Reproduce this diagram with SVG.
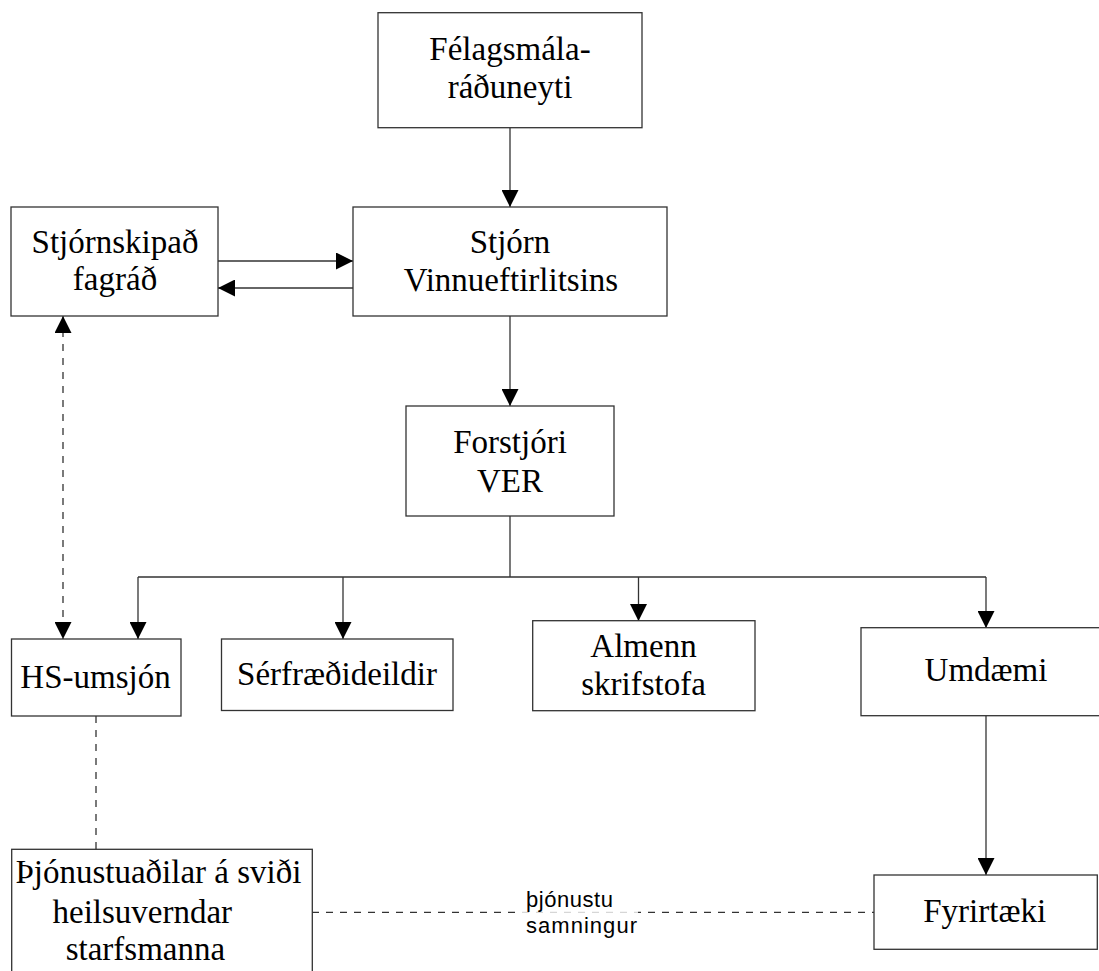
<svg xmlns="http://www.w3.org/2000/svg" width="1099" height="971" viewBox="0 0 1099 971">
<style>
.box{fill:#fff;stroke:#333;stroke-width:1.3}
.t{font-family:"Liberation Serif","Times New Roman",serif;font-size:33px;fill:#000;text-anchor:middle}
.c{fill:none;stroke:#333;stroke-width:1.3}
.d{stroke-dasharray:7,7}
.lbl{font-family:"Liberation Sans",Arial,sans-serif;font-size:22px;fill:#000}
</style>
<defs>
<marker id="ah" viewBox="0 0 17 17" refX="17" refY="8.5" markerWidth="17" markerHeight="17" orient="auto-start-reverse" markerUnits="userSpaceOnUse">
<path d="M0,0 L17,8.5 L0,17 z" fill="#000"/>
</marker>
</defs>
<rect width="1099" height="971" fill="#fff"/>
<g id="connectors">
<path class="c" d="M510,128 V207" marker-end="url(#ah)"/>
<path class="c" d="M218,261 H353" marker-end="url(#ah)"/>
<path class="c" d="M353,288 H218" marker-end="url(#ah)"/>
<path class="c" d="M510,316 V406" marker-end="url(#ah)"/>
<path class="c" d="M510,516 V577 M138,577 H986"/>
<path class="c" d="M138,577 V639" marker-end="url(#ah)"/>
<path class="c" d="M343,577 V639" marker-end="url(#ah)"/>
<path class="c" d="M638.5,577 V621" marker-end="url(#ah)"/>
<path class="c" d="M986,577 V628" marker-end="url(#ah)"/>
<path class="c d" d="M63,316 V639" marker-start="url(#ah)" marker-end="url(#ah)"/>
<path class="c d" d="M96,716 V849"/>
<path class="c" d="M986,716 V875" marker-end="url(#ah)"/>
<path class="c d" d="M312,912.3 H874"/>
<rect x="520" y="905" width="118" height="14" fill="#fff" fill-opacity="0.8"/>
<text class="lbl" x="526" y="906.7" textLength="87" lengthAdjust="spacing">þjónustu</text>
<text class="lbl" x="526" y="932.7" textLength="111" lengthAdjust="spacing">samningur</text>
</g>
<g id="felagsmalaraduneyti">
<rect class="box" x="378" y="12.7" width="264" height="115"/>
<text class="t" x="510" y="60">Félagsmála-</text>
<text class="t" x="510" y="98">ráðuneyti</text>
</g>
<g id="stjornskipad">
<rect class="box" x="11" y="207" width="207" height="109"/>
<text class="t" x="115" y="252.5">Stjórnskipað</text>
<text class="t" x="115" y="290">fagráð</text>
</g>
<g id="stjorn">
<rect class="box" x="353" y="207" width="314" height="109"/>
<text class="t" x="510" y="253">Stjórn</text>
<text class="t" x="511" y="291">Vinnueftirlitsins</text>
</g>
<g id="forstjori">
<rect class="box" x="406" y="406" width="208" height="110"/>
<text class="t" x="510" y="452.7">Forstjóri</text>
<text class="t" x="510" y="491.7">VER</text>
</g>
<g id="hsumsjon">
<rect class="box" x="11.5" y="639" width="169.5" height="77"/>
<text class="t" x="95.5" y="688">HS-umsjón</text>
</g>
<g id="serfraedideildir">
<rect class="box" x="221.5" y="639" width="231.5" height="71.5"/>
<text class="t" x="337" y="685">Sérfræðideildir</text>
</g>
<g id="almenn">
<rect class="box" x="532.7" y="620.7" width="222.3" height="90"/>
<text class="t" x="643.5" y="656.7">Almenn</text>
<text class="t" x="643.5" y="695">skrifstofa</text>
</g>
<g id="umdaemi">
<rect class="box" x="861" y="627.7" width="250" height="88"/>
<text class="t" x="986" y="681">Umdæmi</text>
</g>
<g id="thjonustuadilar">
<rect class="box" x="11.7" y="849.3" width="300.6" height="140"/>
<text class="t" x="158.4" y="883.3">Þjónustuaðilar á sviði</text>
<text class="t" x="142.3" y="922.5">heilsuverndar</text>
<text class="t" x="145.4" y="959.5">starfsmanna</text>
</g>
<g id="fyrirtaeki">
<rect class="box" x="874" y="875" width="223.3" height="74.3"/>
<text class="t" x="984.7" y="922.3">Fyrirtæki</text>
</g>
</svg>
